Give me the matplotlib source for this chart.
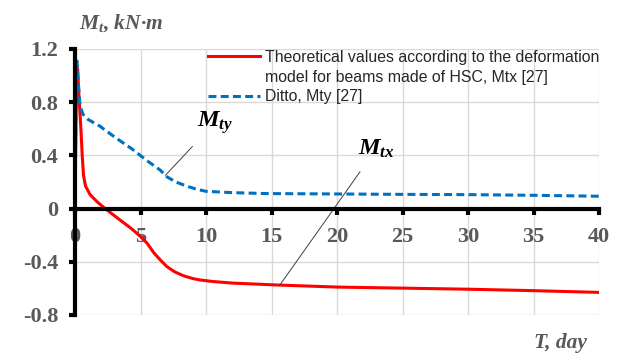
import matplotlib.pyplot as plt
from matplotlib.lines import Line2D

plt.rcParams['font.family'] = 'Liberation Serif'
plt.rcParams['font.weight'] = 'bold'
plt.rcParams['mathtext.fontset'] = 'custom'
plt.rcParams['mathtext.rm'] = 'Liberation Serif:bold'
plt.rcParams['mathtext.it'] = 'Liberation Serif:italic:bold'
plt.rcParams['mathtext.bf'] = 'Liberation Serif:italic:bold'

# Mtx - theoretical values (red)
t_x = [0, 0.1, 0.2, 0.3, 0.45, 0.55, 0.65, 0.8, 1.15, 1.7, 2.3, 3.4, 4.3, 5, 5.5,
       6, 6.5, 7, 7.6, 8.3, 9, 9.5, 10.5, 12, 15.6, 20, 25, 30, 35, 40]
m_x = [0, 0.85, 1.05, 0.85, 0.6, 0.4, 0.25, 0.17, 0.105, 0.05, 0.0, -0.083, -0.15,
       -0.21, -0.26, -0.33, -0.385, -0.435, -0.475, -0.506, -0.526, -0.536, -0.548,
       -0.56, -0.575, -0.59, -0.598, -0.606, -0.617, -0.63]

# Mty - ditto (blue dashed)
t_y = [0, 0.08, 0.15, 0.25, 0.38, 0.6, 1.0, 1.9, 3, 4.4, 5.5, 6.5, 7, 7.7, 8.5,
       9.3, 10, 12, 14.6, 20, 25, 30, 35, 40]
m_y = [0, 0.9, 1.11, 0.95, 0.78, 0.71, 0.67, 0.62, 0.54, 0.445, 0.36, 0.29, 0.24,
       0.2, 0.17, 0.145, 0.13, 0.12, 0.113, 0.11, 0.107, 0.105, 0.1, 0.093]

x_ticks = [0, 5, 10, 15, 20, 25, 30, 35, 40]
y_ticks = [-0.8, -0.4, 0, 0.4, 0.8, 1.2]
y_labels = ['-0.8', '-0.4', '0', '0.4', '0.8', '1.2']

lab_1a = 'Theoretical values according to the deformation'
lab_1b = 'model for beams made of HSC, Mtx [27]'
lab_2 = 'Ditto, Mty [27]'

gray = '#595959'

fig = plt.figure(figsize=(6.2, 3.54), dpi=100)
ax = fig.add_axes([75/620, 1-315/354, 524/620, 266/354])

l1, = ax.plot(t_x, m_x, color='#FF0000', lw=2.2, zorder=3)
l2, = ax.plot(t_y, m_y, color='#0070C0', lw=2.2, ls=(0, (2.6, 1.4)), zorder=3)

ax.set_xlim(0, 40)
ax.set_ylim(-0.8, 1.2)
ax.set_xticks(x_ticks)
ax.set_yticks(y_ticks)
ax.set_yticklabels(y_labels)
ax.grid(True, color='#d9d9d9', lw=1)
ax.set_axisbelow(True)

for s in ['top', 'right']:
    ax.spines[s].set_visible(False)
ax.spines['bottom'].set_position(('data', 0))
ax.spines['left'].set_linewidth(3)
ax.spines['bottom'].set_linewidth(3)
ax.spines['left'].set_zorder(4)
ax.spines['bottom'].set_zorder(4)

ax.tick_params(axis='both', direction='out', width=3, length=4, colors='black',
               labelcolor=gray, labelsize=16)
ax.tick_params(axis='x', pad=9)
ax.tick_params(axis='y', pad=8)

blank = Line2D([], [], color='none')
leg = ax.legend([l1, blank, l2], [lab_1a, lab_1b, lab_2],
                loc='upper right', bbox_to_anchor=(599/620, 1-50/354),
                bbox_transform=fig.transFigure, frameon=False,
                prop={'family': 'Liberation Sans', 'weight': 'normal', 'size': 11.4},
                handlelength=3.3, handletextpad=0.3, labelspacing=0.3,
                borderaxespad=0, borderpad=0)
for txt in leg.get_texts():
    txt.set_color('#262626')

fig.text(79/620, 1-23/354, r'$M_t$, kN·m', fontsize=15.5, color=gray,
         style='italic', weight='bold', va='center')
fig.text(560/620, 1-343/354, 'T, day', fontsize=15.5, color=gray,
         style='italic', weight='bold', va='center', ha='center')

ax.annotate(r'$M_{ty}$', xy=(6.9, 0.25), xytext=(10.7, 0.65),
            fontsize=17.5, ha='center', va='center',
            arrowprops=dict(arrowstyle='-', color='#404040', lw=0.7,
                            shrinkA=8, shrinkB=0))
ax.annotate(r'$M_{tx}$', xy=(15.6, -0.58), xytext=(23.0, 0.45),
            fontsize=17.5, ha='center', va='center',
            arrowprops=dict(arrowstyle='-', color='#404040', lw=0.7,
                            shrinkA=8, shrinkB=0))

plt.savefig('out.png', dpi=100)
